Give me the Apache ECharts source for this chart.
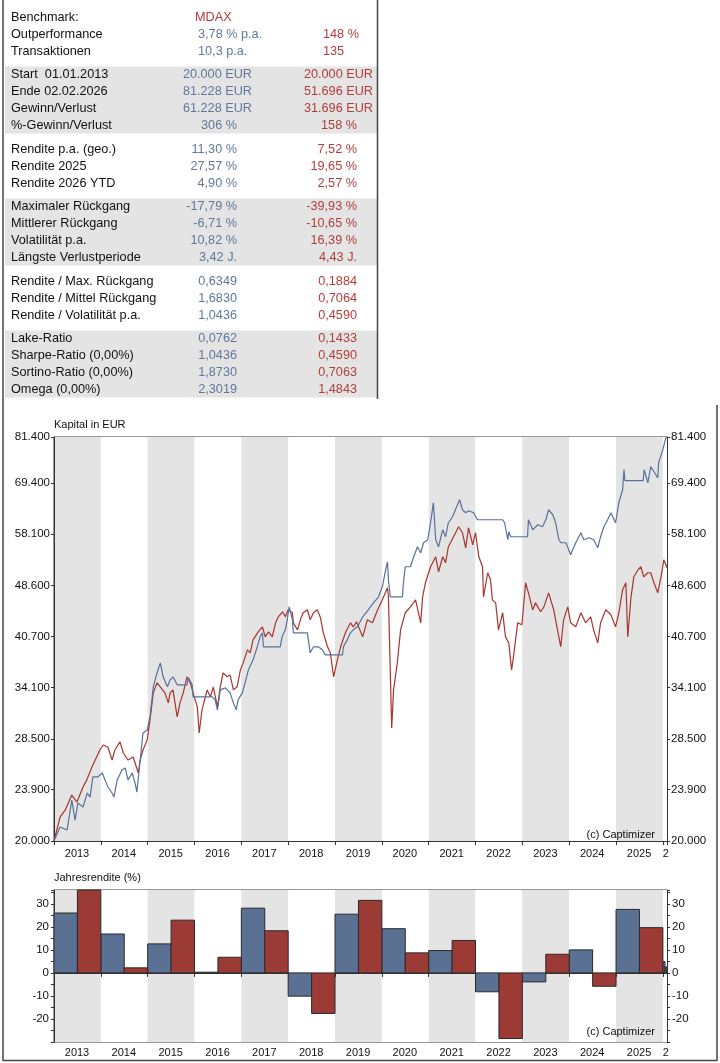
<!DOCTYPE html>
<html>
<head>
<meta charset="utf-8">
<script src="https://cdn.jsdelivr.net/npm/echarts@6/dist/echarts.min.js"></script>
<style>
  html, body { margin: 0; padding: 0; background: #fff; }
  #main { width: 720px; height: 1063px; }
</style>
</head>
<body>
<div id="main"></div>
<script>
// ---- data ----
const years = [2013, 2014, 2015, 2016, 2017, 2018, 2019, 2020, 2021, 2022, 2023, 2024, 2025, 2026];
const endYear = 2026.088; // 02.02.2026

const kapitalTicks = [20000, 23900, 28500, 34100, 40700, 48600, 58100, 69400, 81400];

// strategy capital curve [year, EUR]
const strategyCurve = [
  [2013.00,20000],[2013.13,21000],[2013.28,20780],[2013.38,23060],[2013.45,21510],[2013.51,22820],[2013.62,22510],[2013.71,23630],[2013.77,23300],[2013.83,24990],[2013.94,24990],
  [2014.03,25330],[2014.09,24730],[2014.15,24130],[2014.24,23630],[2014.28,23300],[2014.35,24730],[2014.45,25600],[2014.52,25780],[2014.58,24730],[2014.67,25330],[2014.73,24470],[2014.77,23710],[2014.84,26500],[2014.90,29110],[2014.99,29420],
  [2015.05,30780],[2015.12,34170],[2015.20,35860],[2015.27,37140],[2015.33,35380],[2015.42,34170],[2015.48,35010],[2015.54,35380],[2015.63,34410],[2015.84,34410],[2015.87,35260],[2015.95,34410],[2015.97,33000],
  [2016.38,33000],[2016.44,32660],[2016.49,31540],[2016.55,33810],[2016.66,34050],[2016.76,33460],[2016.83,32320],[2016.89,31540],[2016.93,32660],
  [2017.02,33460],[2017.08,34650],[2017.15,36240],[2017.25,37530],[2017.34,39270],[2017.40,40650],[2017.45,41220],[2017.47,39270],[2017.83,39270],[2017.87,40650],[2017.94,41650],[2017.98,43130],
  [2018.02,45120],[2018.09,43130],[2018.11,41220],[2018.41,41220],[2018.43,40230],[2018.47,38460],[2018.54,39270],[2018.64,39270],[2018.73,38860],[2018.79,38190],
  [2019.16,38190],[2019.18,39270],[2019.26,40230],[2019.33,41220],[2019.39,41650],[2019.48,42090],[2019.59,43580],[2019.71,44660],[2019.82,45750],[2019.93,46720],
  [2020.01,48370],[2020.08,51320],[2020.12,52760],[2020.14,49560],[2020.18,46720],[2020.44,46720],[2020.46,49050],[2020.50,51860],[2020.61,51860],[2020.68,53690],[2020.76,55590],[2020.83,54440],[2020.89,56370],[2020.98,56960],
  [2021.04,60430],[2021.10,64780],[2021.15,56960],[2021.21,55590],[2021.30,58980],[2021.36,57560],[2021.42,60430],[2021.51,61700],[2021.57,63220],[2021.66,65460],[2021.72,63220],[2021.79,62560],[2021.85,63000],[2021.96,62560],
  [2022.04,61060],[2022.58,61060],[2022.62,60430],[2022.69,56960],[2022.71,58570],[2022.75,57560],
  [2023.11,57560],[2023.13,61060],[2023.22,58980],[2023.33,60010],[2023.43,59600],[2023.50,61060],[2023.56,63220],[2023.65,62130],[2023.71,60430],[2023.78,56960],[2023.82,56370],[2023.93,56370],[2023.99,55010],
  [2024.03,54060],[2024.14,56370],[2024.25,58370],[2024.31,56960],[2024.42,57360],[2024.52,56960],[2024.61,55390],[2024.67,57560],[2024.74,59600],[2024.82,61060],[2024.89,62560],[2024.99,60430],
  [2025.06,64780],[2025.14,67770],[2025.17,72660],[2025.19,69930],[2025.58,69930],[2025.60,72660],[2025.68,69440],[2025.74,73420],[2025.81,72150],[2025.89,70660],[2025.91,74450],
  [2026.00,77890],[2026.06,81100],[2026.088,81228]
];

// MDAX capital curve [year, EUR]
const mdaxCurve = [
  [2013.00,20000],[2013.13,21730],[2013.24,22280],[2013.38,23460],[2013.49,22900],[2013.62,24130],[2013.70,24730],[2013.81,25870],[2013.88,26500],[2013.98,27440],
  [2014.05,27920],[2014.15,27730],[2014.24,26500],[2014.30,27440],[2014.41,28220],[2014.48,27150],[2014.58,26500],[2014.69,26780],[2014.80,25330],[2014.84,26500],[2014.90,27440],[2014.99,28420],
  [2015.05,30460],[2015.12,33460],[2015.20,34650],[2015.27,34170],[2015.37,33460],[2015.44,32320],[2015.48,33460],[2015.54,33810],[2015.63,30780],[2015.69,32320],[2015.76,33460],[2015.84,35380],[2015.91,34650],[2015.97,33460],
  [2016.06,31870],[2016.10,29110],[2016.16,31540],[2016.27,33810],[2016.34,33000],[2016.40,34170],[2016.49,31870],[2016.55,34170],[2016.61,35860],[2016.70,35380],[2016.76,35620],[2016.83,33810],[2016.91,34170],[2016.98,36240],
  [2017.04,37140],[2017.13,38860],[2017.19,38460],[2017.25,40230],[2017.36,41360],[2017.45,42090],[2017.51,40650],[2017.58,41360],[2017.66,40650],[2017.73,42680],[2017.79,43580],[2017.88,44350],[2017.94,43580],
  [2018.00,44660],[2018.09,44200],[2018.11,42680],[2018.20,41650],[2018.26,43130],[2018.32,44200],[2018.41,44660],[2018.47,43130],[2018.54,44200],[2018.62,44660],[2018.69,43430],[2018.75,41220],[2018.84,39270],[2018.90,38460],[2018.97,35380],
  [2019.05,37530],[2019.12,39270],[2019.22,41220],[2019.33,42680],[2019.39,42090],[2019.46,42830],[2019.59,40650],[2019.69,43130],[2019.80,42680],[2019.91,44660],
  [2020.01,46230],[2020.12,48210],[2020.14,46720],[2020.21,29630],[2020.25,33810],[2020.33,37140],[2020.40,41650],[2020.50,44200],[2020.61,45120],[2020.72,46230],[2020.83,42680],[2020.87,46720],[2020.93,49050],
  [2021.04,51860],[2021.15,53690],[2021.21,50960],[2021.30,53690],[2021.36,52580],[2021.42,55590],[2021.53,57560],[2021.64,59600],[2021.72,58370],[2021.79,55390],[2021.85,59390],[2021.94,55970],
  [2022.00,58370],[2022.07,53690],[2022.15,51860],[2022.17,46720],[2022.26,50790],[2022.32,49560],[2022.36,46230],[2022.43,45750],[2022.49,41650],[2022.58,44200],[2022.64,40650],[2022.71,39810],[2022.77,36240],[2022.81,37920],[2022.90,42680],[2022.99,42390],
  [2023.07,49050],[2023.13,47370],[2023.22,44660],[2023.28,45750],[2023.39,44350],[2023.46,45120],[2023.56,47370],[2023.67,44660],[2023.75,41650],[2023.82,39270],[2023.88,43130],[2023.97,45120],
  [2024.03,42680],[2024.14,42090],[2024.25,44200],[2024.35,42680],[2024.46,43580],[2024.52,41650],[2024.61,39810],[2024.67,42680],[2024.78,44660],[2024.89,43890],[2024.99,42090],
  [2025.06,44200],[2025.14,47870],[2025.21,49050],[2025.25,40650],[2025.32,46720],[2025.38,50080],[2025.47,51320],[2025.53,51860],[2025.59,50080],[2025.68,50790],[2025.74,50790],[2025.81,49050],[2025.89,47370],[2025.96,50080],
  [2026.02,53130],[2026.088,51696]
];

// yearly returns in %
const strategyReturns = [26.0, 16.9, 12.6, 0.3, 28.1, -10.1, 25.5, 19.2, 9.7, -8.2, -3.9, 10.0, 27.57, 4.90];
const mdaxReturns     = [39.1, 2.2, 22.9, 6.8, 18.3, -17.6, 31.5, 8.7, 14.1, -28.5, 8.1, -5.8, 19.65, 2.57];

// statistics table
const summaryRows = [
  ['Benchmark:', 'MDAX', ''],
  ['Outperformance', '3,78 % p.a.', '148 %'],
  ['Transaktionen', '10,3 p.a.', '135']
];
const capitalRows = [
  ['Start  01.01.2013', '20.000 EUR', '20.000 EUR'],
  ['Ende 02.02.2026', '81.228 EUR', '51.696 EUR'],
  ['Gewinn/Verlust', '61.228 EUR', '31.696 EUR'],
  ['%-Gewinn/Verlust', '306 %', '158 %']
];
const returnRows = [
  ['Rendite p.a. (geo.)', '11,30 %', '7,52 %'],
  ['Rendite 2025', '27,57 %', '19,65 %'],
  ['Rendite 2026 YTD', '4,90 %', '2,57 %']
];
const drawdownRows = [
  ['Maximaler Rückgang', '-17,79 %', '-39,93 %'],
  ['Mittlerer Rückgang', '-6,71 %', '-10,65 %'],
  ['Volatilität p.a.', '10,82 %', '16,39 %'],
  ['Längste Verlustperiode', '3,42 J.', '4,43 J.']
];
const ratioRows = [
  ['Rendite / Max. Rückgang', '0,6349', '0,1884'],
  ['Rendite / Mittel Rückgang', '1,6830', '0,7064'],
  ['Rendite / Volatilität p.a.', '1,0436', '0,4590']
];
const riskRows = [
  ['Lake-Ratio', '0,0762', '0,1433'],
  ['Sharpe-Ratio (0,00%)', '1,0436', '0,4590'],
  ['Sortino-Ratio (0,00%)', '1,8730', '0,7063'],
  ['Omega (0,00%)', '2,3019', '1,4843']
];

// ---- styling ----
const FONT = '"Liberation Sans", Arial, sans-serif';
const BLUE = '#58719a';
const RED = '#a8352f';
const BAR_BLUE = '#5a7194';
const BAR_RED = '#9c3a35';
const TXT_BLUE = '#61779c';
const TXT_RED = '#b23d3a';
const SHADE = '#e4e4e4';
const AXIS = '#333';

function fmtEur(v) {
  return String(v).replace(/\B(?=(\d{3})+(?!\d))/g, '.');
}

// table as graphic elements
const tableBlocks = [
  { rows: summaryRows, top: 17, shaded: false, left: true },
  { rows: capitalRows, top: 74, shaded: true },
  { rows: returnRows, top: 149, shaded: false },
  { rows: drawdownRows, top: 206, shaded: true },
  { rows: ratioRows, top: 281, shaded: false },
  { rows: riskRows, top: 338, shaded: true }
];
const ROW = 17.3;
const graphics = [];
tableBlocks.forEach(b => {
  if (b.shaded) {
    graphics.push({
      type: 'rect', silent: true, z: 0,
      shape: { x: 5, y: b.top - 7.5, width: 372, height: (b.rows.length - 1) * ROW + 15 },
      style: { fill: SHADE }
    });
  }
  b.rows.forEach((r, i) => {
    const y = b.top + i * ROW;
    const t = (text, x, color, align) => graphics.push({
      type: 'text', z: 2, silent: true, x: x, y: y,
      style: { text: text, fill: color, font: '12.7px ' + FONT, align: align, verticalAlign: 'middle', textAlign: align, textVerticalAlign: 'middle' }
    });
    t(r[0], 11, '#111', 'left');
    if (b.left) {
      t(r[1], r[0] === 'Benchmark:' ? 195 : 198, r[0] === 'Benchmark:' ? TXT_RED : TXT_BLUE, 'left');
      t(r[2], 323, TXT_RED, 'left');
    } else {
      const eur = / EUR$/.test(r[1]);
      t(r[1], eur ? 252 : 237, TXT_BLUE, 'right');
      t(r[2], eur ? 373 : 357, TXT_RED, 'right');
    }
  });
});

// frame lines
[[3, 0, 3, 1061], [3, 1060.5, 717, 1060.5], [717, 405, 717, 1061], [377.5, 0, 377.5, 399]].forEach(l => {
  graphics.push({ type: 'line', silent: true, z: 5, shape: { x1: l[0], y1: l[1], x2: l[2], y2: l[3] }, style: { stroke: '#444', lineWidth: 1.5 } });
});

// titles and copyright
function label(text, x, y, align, size) {
  graphics.push({ type: 'text', silent: true, z: 10, x: x, y: y,
    style: { text: text, fill: '#111', font: size + 'px ' + FONT, align: align, verticalAlign: 'middle', textAlign: align, textVerticalAlign: 'middle' } });
}
label('Kapital in EUR', 54, 425, 'left', 11);
label('Jahresrendite (%)', 54, 878, 'left', 11);
label('(c) Captimizer', 655, 835, 'right', 11);
label('(c) Captimizer', 655, 1032, 'right', 11);

// bars: [x0, x1, value]
const blueBars = [], redBars = [];
years.forEach((yr, i) => {
  const end = Math.min(yr + 1, endYear);
  const mid = (yr + end) / 2;
  blueBars.push([yr, mid, strategyReturns[i]]);
  redBars.push([mid, end, mdaxReturns[i]]);
});

function barRenderer(color) {
  return function (params, api) {
    const cs = params.coordSys;
    const a = api.coord([api.value(0), 0]);
    const b = api.coord([api.value(1), api.value(2)]);
    let y0 = Math.min(a[1], b[1]), y1 = Math.max(a[1], b[1]);
    y0 = Math.max(y0, cs.y); y1 = Math.min(y1, cs.y + cs.height);
    return {
      type: 'rect',
      shape: { x: a[0], y: y0, width: b[0] - a[0], height: Math.max(y1 - y0, 0.5) },
      style: { fill: color, stroke: '#2a2a2a', lineWidth: 1 }
    };
  };
}

function yearLabel(v) {
  if (Math.abs(v - Math.round(v)) > 1e-6) return '';
  const y = Math.round(v);
  if (years.indexOf(y) < 0) return '';
  if (y === 2026) return '{e|2}';
  return '{y|' + y + '}';
}

function xAxisFor(grid, margin) {
  return {
    type: 'value', gridIndex: grid, min: 2013, max: endYear, interval: 1,
    axisLine: { show: true, lineStyle: { color: AXIS, width: 1 } },
    axisTick: { show: true, inside: false, length: 4, lineStyle: { color: AXIS } },
    axisLabel: {
      formatter: yearLabel, margin: margin, color: '#111', fontFamily: FONT, fontSize: 11,
      showMinLabel: true, showMaxLabel: true, hideOverlap: false,
      rich: {
        y: { fontFamily: FONT, fontSize: 11, color: '#111', padding: [0, 0, 0, 46] },
        e: { fontFamily: FONT, fontSize: 11, color: '#111', padding: [0, 0, 0, 6] }
      }
    },
    splitLine: { show: false },
    splitArea: { show: true, areaStyle: { color: [SHADE, '#ffffff'] } }
  };
}

function kapitalAxis(pos) {
  return {
    type: 'log', logBase: 10, gridIndex: 0, position: pos, min: 20000, max: 81400,
    axisLine: { show: true, lineStyle: { color: AXIS } },
    axisTick: { show: true, inside: false, length: 3, customValues: kapitalTicks, lineStyle: { color: AXIS } },
    axisLabel: { customValues: kapitalTicks, formatter: v => fmtEur(Math.round(v)), margin: 4, color: '#111', fontFamily: FONT, fontSize: 11.5 },
    splitLine: { show: false }
  };
}

function renditeAxis(pos) {
  return {
    type: 'value', gridIndex: 1, position: pos, min: -30, max: 36, interval: 5,
    axisLine: { show: true, lineStyle: { color: AXIS } },
    axisTick: { show: true, inside: false, length: 3, lineStyle: { color: AXIS } },
    axisLabel: {
      formatter: v => (Math.abs(v % 10) < 1e-6 && v > -25 && v <= 30) ? String(v) : '',
      margin: 5, color: '#111', fontFamily: FONT, fontSize: 11.5, showMinLabel: true, showMaxLabel: true
    },
    splitLine: { show: false }
  };
}

const chart = echarts.init(document.getElementById('main'), null, { renderer: 'canvas' });
chart.setOption({
  animation: false,
  backgroundColor: '#fff',
  textStyle: { fontFamily: FONT },
  grid: [
    { left: 54, right: 53, top: 437, height: 404, show: true, borderColor: AXIS, borderWidth: 1, backgroundColor: 'transparent', containLabel: false },
    { left: 54, right: 53, top: 890, height: 152, show: true, borderColor: AXIS, borderWidth: 1, backgroundColor: 'transparent', containLabel: false }
  ],
  xAxis: [xAxisFor(0, 7), xAxisFor(1, 5)],
  yAxis: [kapitalAxis('left'), kapitalAxis('right'), renditeAxis('left'), renditeAxis('right')],
  series: [
    { name: 'Strategie', type: 'line', xAxisIndex: 0, yAxisIndex: 0, data: strategyCurve, symbol: 'none', showSymbol: false,
      lineStyle: { color: BLUE, width: 1.2 }, z: 3 },
    { name: 'MDAX', type: 'line', xAxisIndex: 0, yAxisIndex: 0, data: mdaxCurve, symbol: 'none', showSymbol: false,
      lineStyle: { color: RED, width: 1.2 }, z: 2 },
    { name: 'Strategie %', type: 'custom', xAxisIndex: 1, yAxisIndex: 2, data: blueBars, encode: { x: [0, 1], y: 2 },
      renderItem: barRenderer(BAR_BLUE), z: 3 },
    { name: 'MDAX %', type: 'custom', xAxisIndex: 1, yAxisIndex: 2, data: redBars, encode: { x: [0, 1], y: 2 },
      renderItem: barRenderer(BAR_RED), z: 3 }
  ],
  graphic: graphics
});
</script>
</body>
</html>
